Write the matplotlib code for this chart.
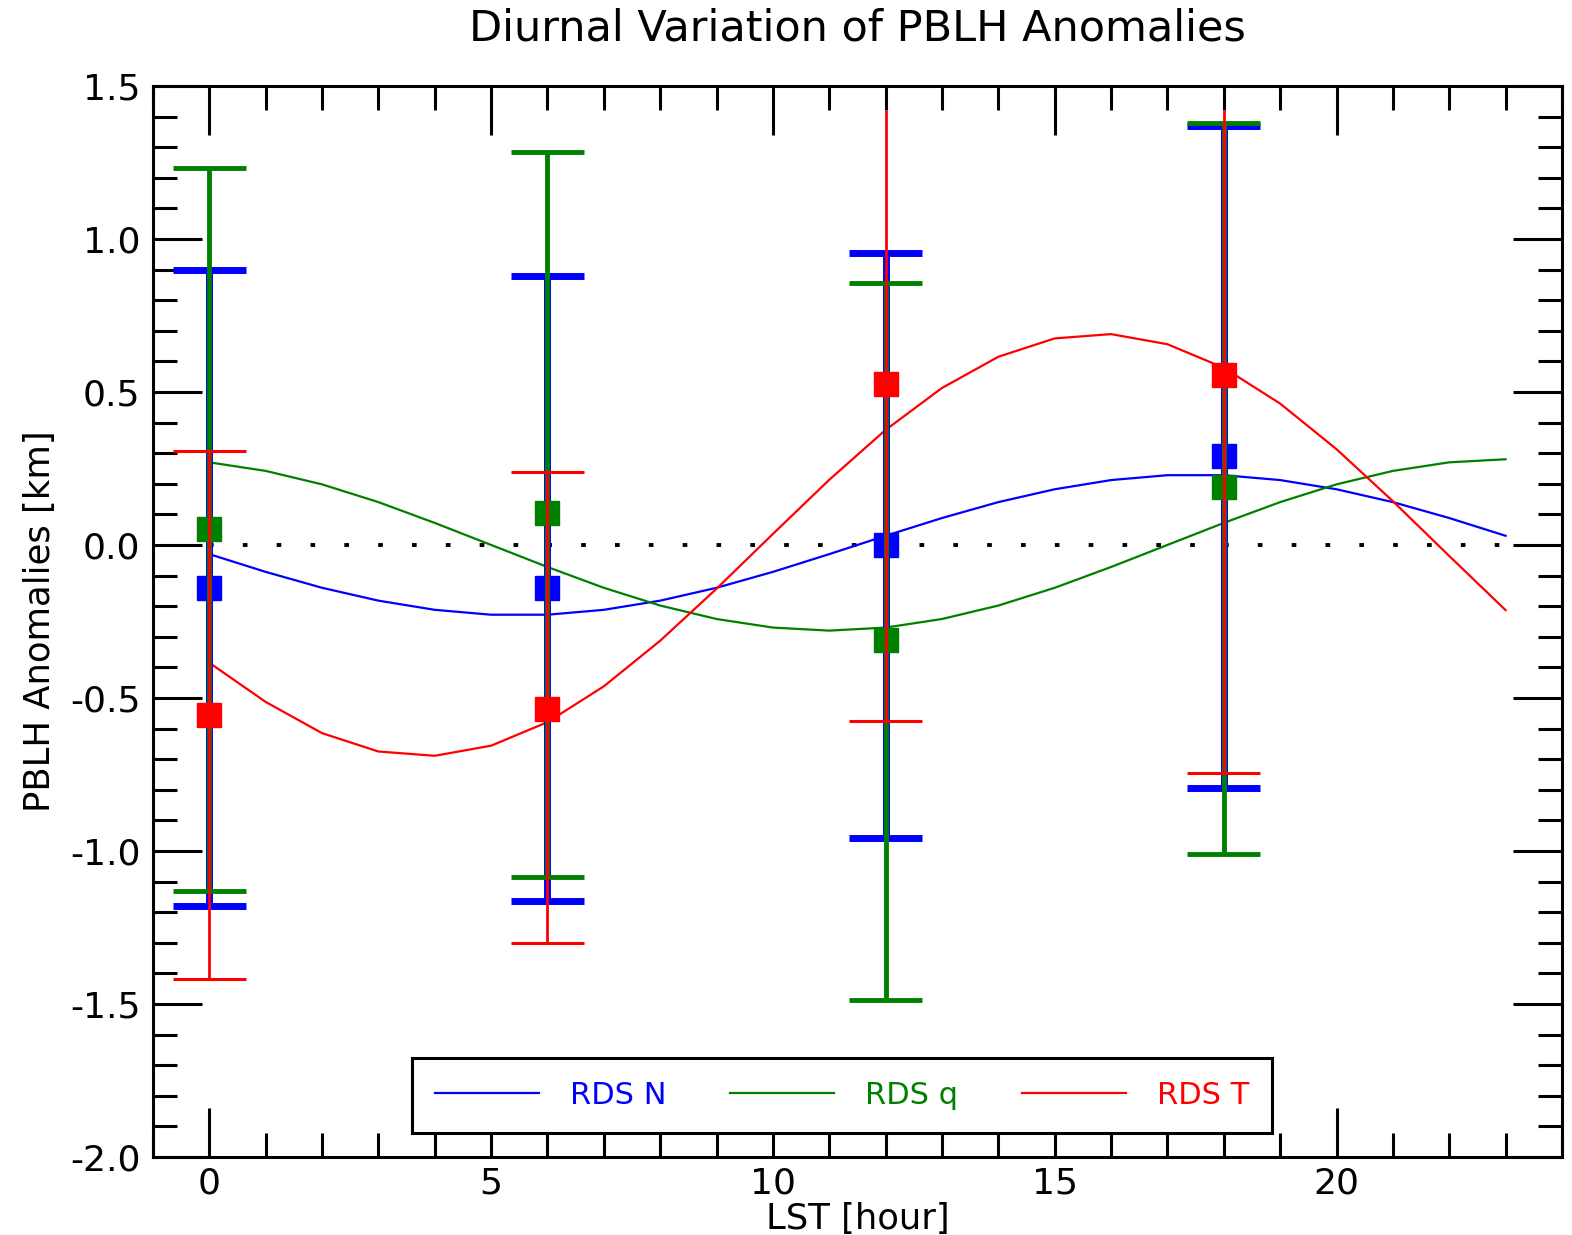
import matplotlib
matplotlib.use("Agg")
import matplotlib.pyplot as plt
from matplotlib.ticker import MultipleLocator

# ---------------- data ----------------
hours = list(range(24))
curve_N = [-0.030, -0.088, -0.140, -0.182, -0.212, -0.228, -0.228, -0.212, -0.182, -0.140,
           -0.088, -0.030, 0.030, 0.088, 0.140, 0.182, 0.212, 0.228, 0.228, 0.212,
           0.182, 0.140, 0.088, 0.030]
curve_q = [0.270, 0.242, 0.198, 0.140, 0.072, 0.000, -0.072, -0.140, -0.198, -0.242,
           -0.270, -0.280, -0.270, -0.242, -0.198, -0.140, -0.072, 0.000, 0.072, 0.140,
           0.198, 0.242, 0.270, 0.280]
curve_T = [-0.385, -0.513, -0.615, -0.675, -0.689, -0.656, -0.579, -0.462, -0.313, -0.143,
           0.036, 0.213, 0.376, 0.513, 0.615, 0.675, 0.689, 0.656, 0.579, 0.462,
           0.313, 0.143, -0.036, -0.213]

obs_hours = [0, 6, 12, 18]
mean_N = [-0.14, -0.14, 0.00, 0.29]
lo_N = [-1.18, -1.165, -0.957, -0.793]
hi_N = [0.90, 0.88, 0.953, 1.368]

mean_q = [0.052, 0.105, -0.31, 0.19]
lo_q = [-1.13, -1.085, -1.487, -1.01]
hi_q = [1.232, 1.284, 0.856, 1.378]

mean_T = [-0.556, -0.536, 0.525, 0.556]
lo_T = [-1.418, -1.30, -0.575, -0.744]
hi_T = [0.307, 0.239, 1.42, 1.42]
hi_T_cap = [True, True, False, False]

labels = ["RDS N", "RDS q", "RDS T"]
colors = ["#0000FF", "#008000", "#FF0000"]

# ---------------- figure ----------------
plt.rcParams['font.family'] = ['DejaVu Sans']
fig = plt.figure(figsize=(15.72, 12.35), dpi=100)
ax = fig.add_axes([0.0973, 0.0632, 0.8963, 0.8672])

cap_half = 0.65
styles = [
    dict(vw=5.0, cw=5.0),
    dict(vw=3.5, cw=3.5),
    dict(vw=2.0, cw=2.2),
]
series = [
    (mean_N, lo_N, hi_N, [True] * 4),
    (mean_q, lo_q, hi_q, [True] * 4),
    (mean_T, lo_T, hi_T, hi_T_cap),
]

# zero line
ax.hlines(0, hours[0], hours[-1], colors='black', linestyles=(0, (1.2, 7.5)), linewidth=2.8, zorder=1)

# curves
for c, col, lab in zip([curve_N, curve_q, curve_T], colors, labels):
    ax.plot(hours, c, color=col, linewidth=1.6, label=lab, zorder=2)

# error bars and markers
z = 3
for (m, lo, hi, hcap), col, st in zip(series, colors, styles):
    ax.vlines(obs_hours, lo, hi, colors=col, linewidth=st['vw'], zorder=z)
    xs = obs_hours
    ax.hlines(lo, [x - cap_half for x in xs], [x + cap_half for x in xs],
              colors=col, linewidth=st['cw'], zorder=z)
    hx = [x for x, k in zip(xs, hcap) if k]
    hy = [y for y, k in zip(hi, hcap) if k]
    ax.hlines(hy, [x - cap_half for x in hx], [x + cap_half for x in hx],
              colors=col, linewidth=st['cw'], zorder=z)
    ax.plot(obs_hours, m, linestyle='none', marker='s', markersize=17,
            color=col, markeredgecolor=col, zorder=z + 0.5)
    z += 1

ax.set_xlim(-1, 24)
ax.set_ylim(-2.0, 1.5)
ax.xaxis.set_major_locator(MultipleLocator(5))
ax.xaxis.set_minor_locator(MultipleLocator(1))
ax.yaxis.set_major_locator(MultipleLocator(0.5))
ax.yaxis.set_minor_locator(MultipleLocator(0.1))
ax.set_xticks([0, 5, 10, 15, 20])
ax.set_yticks([1.5, 1.0, 0.5, 0.0, -0.5, -1.0, -1.5, -2.0])
ax.set_yticklabels(["1.5", "1.0", "0.5", "0.0", "-0.5", "-1.0", "-1.5", "-2.0"])
ax.tick_params(which='both', direction='in', top=True, right=True, width=2.2, labelsize=26)
ax.tick_params(which='major', length=35)
ax.tick_params(axis='x', which='major', pad=7)
ax.tick_params(axis='y', which='major', pad=9)
ax.tick_params(which='minor', length=17.5)
for s in ax.spines.values():
    s.set_linewidth(2.2)

ax.set_xlabel("LST [hour]", fontsize=25.5, labelpad=1)
ax.set_ylabel("PBLH Anomalies [km]", fontsize=25.5, labelpad=9)
ax.set_title("Diurnal Variation of PBLH Anomalies", fontsize=31, pad=33)

leg = ax.legend(loc='lower left', bbox_to_anchor=(0.184, 0.0224, 0.61, 0.066), mode='expand',
                borderaxespad=0, ncol=3, fontsize=22, handlelength=3.4, handletextpad=1.0,
                columnspacing=2.0, fancybox=False, framealpha=1, edgecolor='black',
                borderpad=0.75)
leg.get_frame().set_linewidth(2.2)
for t, col in zip(leg.get_texts(), colors):
    t.set_color(col)
leg.set_zorder(10)

fig.savefig("out.png", dpi=100)
